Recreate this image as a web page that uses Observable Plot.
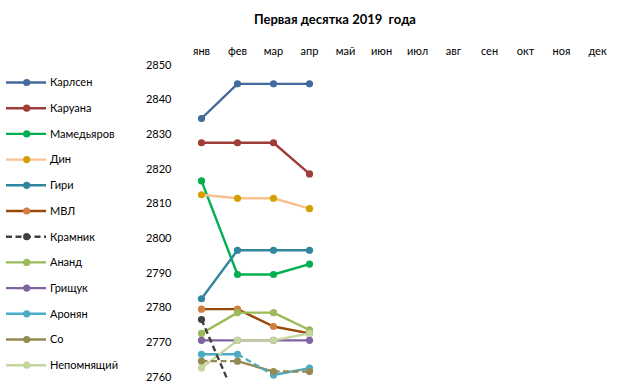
<!DOCTYPE html>
<html>
<head>
<meta charset="utf-8">
<script src="https://cdn.jsdelivr.net/npm/d3@7"></script>
<script src="https://cdn.jsdelivr.net/npm/@observablehq/plot@0.6"></script>
<style>
  html, body { margin: 0; padding: 0; background: #fff; }
  #wrap { position: relative; width: 630px; height: 387px; overflow: hidden; font-family: Lato, "Open Sans", sans-serif; }
  #chart { position: absolute; left: 0; top: 0; }
  #title { position: absolute; top: 11px; left: 0; width: 670px; text-align: center; font-weight: bold; font-size: 13px; color: #000; white-space: pre; }
  #legend { position: absolute; left: 0; top: 0; }
</style>
</head>
<body>
<div id="wrap">
  <div id="chart"></div>
  <div id="title">Первая десятка 2019  года</div>
  <svg id="legend" width="150" height="387"></svg>
</div>
<script>
// ---- data ----
const months = ["янв","фев","мар","апр","май","июн","июл","авг","сен","окт","ноя","дек"];
const yTicks = [2760,2770,2780,2790,2800,2810,2820,2830,2840,2850];
const players = ["Карлсен","Каруана","Мамедьяров","Дин","Гири","МВЛ","Крамник","Ананд","Грищук","Аронян","Со","Непомнящий"];

const carlsen     = [2835, 2845, 2845, 2845];
const caruana     = [2828, 2828, 2828, 2819];
const mamedyarov  = [2817, 2790, 2790, 2793];
const ding        = [2813, 2812, 2812, 2809];
const giri        = [2783, 2797, 2797, 2797];
const mvl         = [2780, 2780, 2775, 2773];
const kramnik     = [2777, 2753];
const anand       = [2773, 2779, 2779, 2774];
const grischuk    = [2771, 2771, 2771, 2771];
const aronian     = [2767, 2767, 2761, 2763];
const so          = [2765, 2765, 2762, 2762];
const nepo        = [2763, 2771, 2771, 2773];
const series = [carlsen, caruana, mamedyarov, ding, giri, mvl, kramnik, anand, grischuk, aronian, so, nepo];

// points shown as markers (Kramnik's Feb value lies below the axis)
const markerCount = [4,4,4,4,4,4,1,4,4,4,4,4];

// dashed segments per player (segment i joins month i and i+1)
const dashedSegments = {
  "Крамник": [0],
  "Аронян": [1],
  "Со": [0, 2]
};

const lineColors   = ["#44699C","#A03C38","#00B050","#FAC090","#31859C","#984807","#404040","#9BBB59","#8064A2","#4BACC6","#948A54","#C3D69B"];
const markerColors = ["#44699C","#A03C38","#00B050","#D4A000","#31859C","#D27E42","#404040","#9BBB59","#8064A2","#4BACC6","#948A54","#C3D69B"];

// ---- build tables ----
const segments = [];
const points = [];
players.forEach((p, k) => {
  const vals = series[k];
  vals.forEach((v, i) => {
    if (i < markerCount[k]) points.push({player: p, month: months[i], value: v, color: markerColors[k]});
    if (i < vals.length - 1) {
      const dashed = (dashedSegments[p] || []).includes(i);
      segments.push({player: p, m1: months[i], v1: v, m2: months[i+1], v2: vals[i+1], dashed, color: lineColors[k]});
    }
  });
});

const chart = Plot.plot({
  width: 630,
  height: 387,
  marginTop: 66,
  marginBottom: 9,
  marginLeft: 180,
  marginRight: 20,
  style: {fontFamily: "Lato, 'Open Sans', sans-serif", fontSize: "11px", color: "#000", background: "transparent"},
  x: {type: "point", domain: months, range: [200, 597], padding: 0, label: null},
  y: {domain: [2760, 2850], range: [378, 66], label: null},
  marks: [
    Plot.axisX({anchor: "top", tickSize: 0, tickPadding: 12, label: null}),
    Plot.axisY({ticks: yTicks, tickSize: 0, tickPadding: 9, label: null, tickFormat: d => String(d), dy: -1.5}),
    Plot.link(segments.filter(d => !d.dashed), {x1: "m1", y1: "v1", x2: "m2", y2: "v2", stroke: "color", strokeWidth: 2.4, strokeLinecap: "round", clip: true}),
    Plot.link(segments.filter(d => d.dashed), {x1: "m1", y1: "v1", x2: "m2", y2: "v2", stroke: "color", strokeWidth: 2.4, strokeDasharray: "6,3.5", clip: true}),
    Plot.dot(points, {x: "month", y: "value", fill: "color", r: 3.6})
  ]
});
document.getElementById("chart").appendChild(chart);

// ---- legend ----
const lg = d3.select("#legend");
players.forEach((p, k) => {
  const y = 82.5 + k * 25.7;
  const g = lg.append("g");
  g.append("line").attr("x1", 6).attr("x2", 46).attr("y1", y).attr("y2", y)
    .attr("stroke", lineColors[k]).attr("stroke-width", 2.4)
    .attr("stroke-dasharray", p === "Крамник" ? "6,3.5" : null);
  g.append("circle").attr("cx", 26.7).attr("cy", y).attr("r", 3.6).attr("fill", markerColors[k]);
  g.append("text").attr("x", 50).attr("y", y).attr("dy", "0.35em")
    .attr("font-family", "Lato, 'Open Sans', sans-serif").attr("font-size", 11).attr("fill", "#000").text(p);
});
</script>
</body>
</html>
